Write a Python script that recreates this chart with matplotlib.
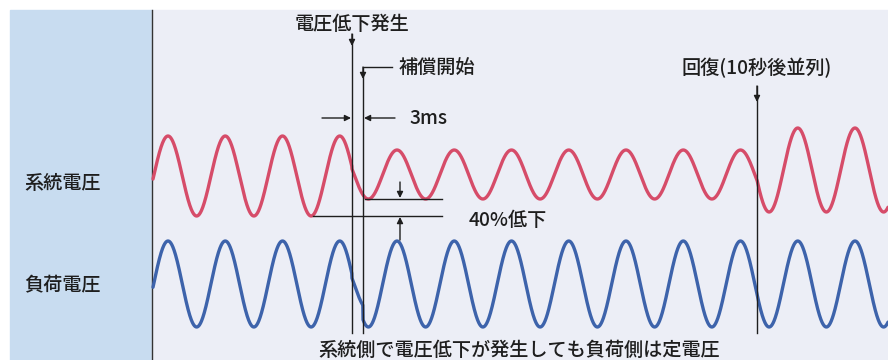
import numpy as np
import matplotlib
matplotlib.use("Agg")
import matplotlib.pyplot as plt
from matplotlib.patches import Rectangle

plt.rcParams['font.family'] = ['Noto Sans CJK JP', 'DejaVu Sans']

# wave parameters (pixel-like units)
x_start, x_end = 153, 888
first_peak = 168          # x of first crest
period = 57.25            # crest-to-crest distance
t_drop = 352              # 電圧低下発生
t_comp = 363              # 補償開始
t_recover = 757           # 回復

# system voltage (red): center / amplitude per segment
sys_center = [176, 174.5, 170]
sys_amp = [40, 24.5, 42]
# load voltage (blue)
load_center = 284
load_amp = 43
gap_ratio = 0.6           # load follows sagged voltage during the 3 ms gap

row_labels = ['系統電圧', '負荷電圧']
row_label_y = [183, 285]

red = '#d64c69'
blue = '#3d63ab'
ink = '#1e1e1e'

fig = plt.figure(figsize=(8.88, 3.6), dpi=100)
ax = fig.add_axes([0, 0, 1, 1])
ax.set_xlim(0, 888)
ax.set_ylim(360, 0)
ax.axis('off')

# background panels
ax.add_patch(Rectangle((10, 10), 142, 350, color='#c8dcf0', zorder=0))
ax.add_patch(Rectangle((152, 10), 736, 350, color='#eceef6', zorder=0))
ax.plot([152, 152], [10, 360], color='#333333', lw=1.0, zorder=1)

x = np.linspace(x_start, x_end, 3000)
c = np.cos(2 * np.pi * (x - first_peak) / period)

seg = np.where(x < t_drop, 0, np.where(x < t_recover, 1, 2))
yr = np.array(sys_center)[seg] - np.array(sys_amp)[seg] * c
ax.plot(x, yr, color=red, lw=2.4, zorder=3, solid_capstyle='round')

amp_l = np.where((x >= t_drop) & (x < t_comp), load_amp * gap_ratio, load_amp)
yl = load_center - amp_l * c
ax.plot(x, yl, color=blue, lw=2.4, zorder=3, solid_capstyle='round')

lk = dict(color=ink, lw=1.0, zorder=4)
ak = dict(arrowstyle='-|>', color=ink, lw=1.0, mutation_scale=9,
          shrinkA=0, shrinkB=0)

# voltage drop line
ax.plot([t_drop, t_drop], [34, 333], **lk)
ax.annotate('', xy=(t_drop, 46), xytext=(t_drop, 34), arrowprops=ak, zorder=5)
# compensation start line
ax.plot([392, t_comp, t_comp], [67, 67, 333], **lk)
ax.annotate('', xy=(t_comp, 79), xytext=(t_comp, 67), arrowprops=ak, zorder=5)
# 3ms arrows
ax.annotate('', xy=(t_drop - 1, 118), xytext=(322, 118), arrowprops=ak, zorder=5)
ax.annotate('', xy=(t_comp + 1, 118), xytext=(395, 118), arrowprops=ak, zorder=5)
# recovery line
ax.plot([t_recover, t_recover], [86, 333], **lk)
ax.annotate('', xy=(t_recover, 102), xytext=(t_recover, 86), arrowprops=ak, zorder=5)

# 40% drop marks
y_sag = sys_center[1] + sys_amp[1]
y_full = sys_center[0] + sys_amp[0]
ax.plot([365, 442], [y_sag, y_sag], **lk)
ax.plot([313, 442], [y_full, y_full], **lk)
ax.annotate('', xy=(400, y_sag - 1), xytext=(400, 182), arrowprops=ak, zorder=5)
ax.annotate('', xy=(400, y_full + 1), xytext=(400, 240), arrowprops=ak, zorder=5)

tk = dict(color=ink, fontsize=13.8, fontweight='medium', va='center', zorder=6)
ax.text(t_drop, 24, '電圧低下発生', ha='center', **tk)
ax.text(399, 67, '補償開始', ha='left', **tk)
ax.text(409, 118, '3ms', ha='left', **tk)
ax.text(681, 68, '回復(10秒後並列)', ha='left', **tk)
ax.text(469, 220, '40%低下', ha='left', **tk)
for lab, yy in zip(row_labels, row_label_y):
    ax.text(24, yy, lab, ha='left', **tk)
ax.text(519, 350, '系統側で電圧低下が発生しても負荷側は定電圧', ha='center', **tk)

fig.savefig('out.png', dpi=100)
